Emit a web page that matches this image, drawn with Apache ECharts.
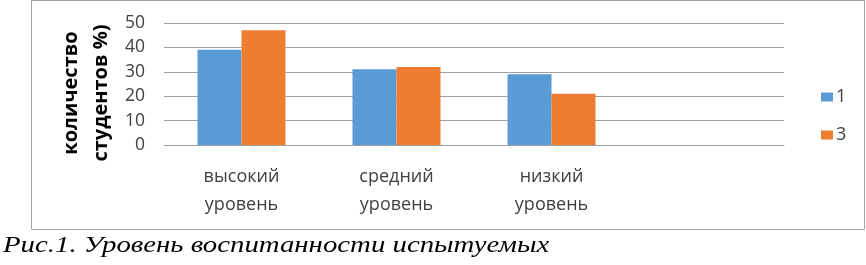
<!DOCTYPE html>
<html>
<head>
<meta charset="utf-8">
<script src="https://cdn.jsdelivr.net/npm/echarts@6/dist/echarts.min.js"></script>
<style>
html,body{margin:0;padding:0;background:#fff;}
#c{width:866px;height:265px;}
</style>
</head>
<body>
<div id="c"></div>
<script>
const categories = ['высокий\nуровень', 'средний\nуровень', 'низкий\nуровень', ''];
const series1 = [39, 31, 29, null];
const series3 = [47, 32, 21, null];
const seriesNames = ['1', '3'];
const yTicks = { min: 0, max: 50, interval: 10 };
const yTitle = 'количество\nстудентов %)';
const caption = 'Рис.1. Уровень воспитанности испытуемых';

const chart = echarts.init(document.getElementById('c'), null, { renderer: 'canvas' });
const labelFont = 'Open Sans';
chart.setOption({
  animation: false,
  backgroundColor: '#fff',
  grid: { left: 164, right: 82, top: 23, bottom: 120, containLabel: false },
  legend: {
    orient: 'vertical',
    left: 816,
    top: 83,
    itemWidth: 12,
    itemHeight: 9,
    itemGap: 20,
    icon: 'rect',
    textStyle: { fontFamily: labelFont, fontSize: 18, color: '#404040', padding: [0, 0, 0, -2] },
    data: seriesNames
  },
  xAxis: {
    type: 'category',
    data: categories,
    axisTick: { show: false },
    axisLine: { lineStyle: { color: '#a0a0a0', width: 1 } },
    axisLabel: {
      interval: 0,
      margin: 18,
      fontFamily: labelFont,
      fontSize: 18,
      color: '#404040',
      lineHeight: 28
    }
  },
  yAxis: {
    type: 'value',
    min: yTicks.min,
    max: yTicks.max,
    interval: yTicks.interval,
    axisLine: { show: false },
    axisTick: { show: false },
    splitLine: { lineStyle: { color: '#a0a0a0', width: 1 } },
    axisLabel: { margin: 19, fontFamily: labelFont, fontSize: 17.5, color: '#404040' }
  },
  series: [
    { name: seriesNames[0], type: 'bar', data: series1, barWidth: 44, barGap: '0%', itemStyle: { color: '#5b9bd5' } },
    { name: seriesNames[1], type: 'bar', data: series3, barWidth: 44, barGap: '0%', itemStyle: { color: '#ed7d31' } }
  ],
  graphic: [
    {
      type: 'rect', silent: true, z: -1,
      shape: { x: 31.5, y: 0.5, width: 833, height: 229 },
      style: { fill: 'none', stroke: '#a0a0a0', lineWidth: 1 }
    },
    {
      type: 'text', x: 86, y: 93, rotation: Math.PI / 2,
      style: {
        text: yTitle, fontFamily: labelFont, fontWeight: 'bold', fontSize: 20,
        lineHeight: 30, fill: '#000', align: 'center', verticalAlign: 'middle'
      }
    },
    {
      type: 'text', x: 3, y: 246, scaleX: 1.2,
      style: {
        text: caption, fontFamily: 'Liberation Serif', fontStyle: 'italic', fontSize: 24,
        fill: '#000', align: 'left', verticalAlign: 'middle'
      }
    }
  ]
});
</script>
</body>
</html>
